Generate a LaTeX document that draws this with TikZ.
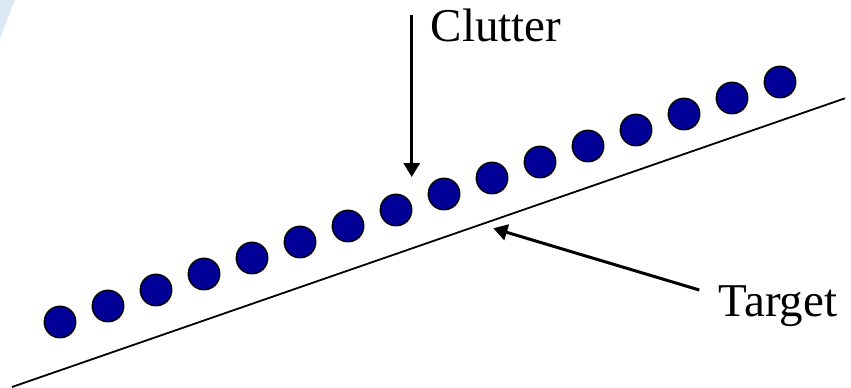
\documentclass[tikz,border=0pt]{standalone}
\usepackage{fontspec}
\setmainfont{Liberation Serif}
\usetikzlibrary{arrows.meta}
\definecolor{dotblue}{RGB}{0,0,153}
\definecolor{cornerblue}{RGB}{218,233,245}
\tikzset{
  dotnode/.style={circle, draw=black, line width=1.4pt, fill=dotblue, minimum size=31.5pt, inner sep=0pt},
  lbl/.style={inner sep=0pt, anchor=base west, font=\fontsize{47}{56}\selectfont},
  pointer/.style={line width=3pt, -{Triangle[length=14pt,width=16pt]}},
  trackline/.style={line width=1.8pt}
}
\begin{document}
\begin{tikzpicture}[x=1pt,y=-1pt]
\useasboundingbox (0,0) rectangle (851,388);
\fill[cornerblue] (0,0) -- (15,0) -- (0,38) -- cycle;
% target line
\coordinate (lA) at (12,387);
\coordinate (lB) at (845,98.3);
\draw[trackline] (lA) -- (lB);
% clutter dots
\foreach \i in {0,...,15} {
  \node[dotnode] (c\i) at ({60+48*\i},{322-16*\i}) {};
}
% labels
\node[lbl] (clutter) at (430.5,41.7) {Clutter};
\node[lbl] (target) at (718.5,316.7) {Target};
% arrows
\coordinate (cA) at (411.7,15);
\coordinate (cB) at (411.7,177);
\draw[pointer] (cA) -- (cB);
\coordinate (tA) at (699.3,290);
\coordinate (tB) at (493.3,228.3);
\draw[pointer] (tA) -- (tB);
\end{tikzpicture}
\end{document}
